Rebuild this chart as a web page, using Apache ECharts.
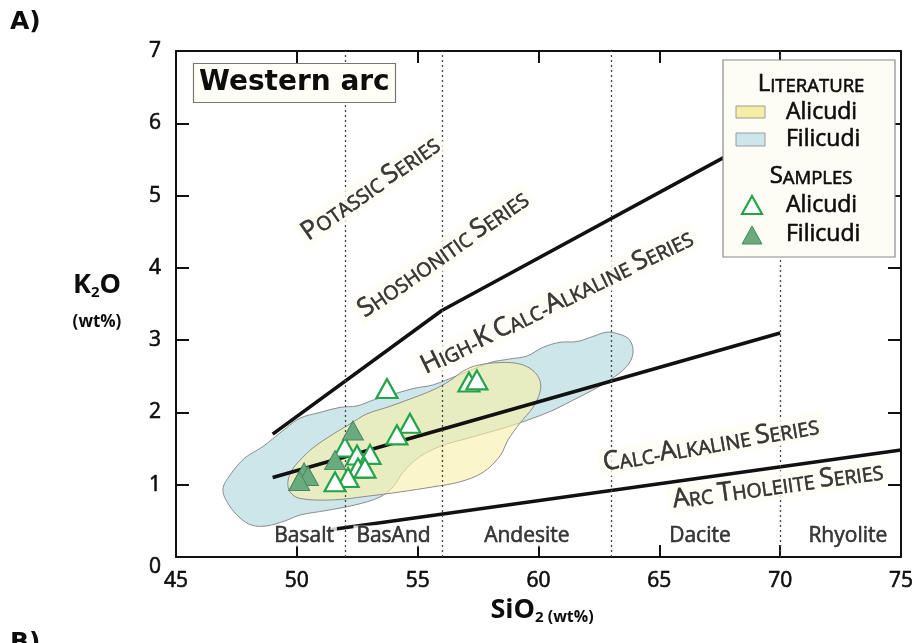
<!DOCTYPE html>
<html>
<head>
<meta charset="utf-8">
<script src="https://cdn.jsdelivr.net/npm/echarts@6/dist/echarts.min.js"></script>
<style>
  html, body { margin: 0; padding: 0; background: #fff; }
  #chart { width: 919px; height: 643px; }
</style>
</head>
<body>
<div id="chart"></div>
<script>
// ---- Axis ranges and ticks ----
const sio2Range = [45, 75];
const k2oRange = [0, 7];

// ---- Literature compositional fields, [SiO2, K2O] outline vertices ----
const filicudiField = [
  [46.94, 0.93], [47.23, 1.13], [47.85, 1.37], [48.56, 1.52], [49.43, 1.75], [50.13, 1.92],
  [50.96, 2.00], [51.79, 2.07], [52.49, 2.09], [53.15, 2.17], [53.98, 2.25], [54.81, 2.33],
  [55.63, 2.38], [56.34, 2.47], [57.16, 2.58], [57.99, 2.69], [58.82, 2.74], [59.52, 2.78],
  [60.18, 2.90], [60.89, 2.97], [61.59, 2.98], [62.25, 3.05], [62.83, 3.11], [63.37, 3.08],
  [63.78, 3.00], [63.91, 2.82], [63.66, 2.64], [62.96, 2.45], [62.25, 2.31], [61.43, 2.17],
  [60.60, 2.03], [59.77, 1.92], [58.82, 1.81], [57.99, 1.73], [57.04, 1.64], [55.92, 1.53],
  [55.01, 1.37], [54.39, 1.17], [53.98, 0.97], [53.44, 0.83], [52.41, 0.72], [51.16, 0.64],
  [50.13, 0.58], [49.51, 0.50], [48.76, 0.43], [48.14, 0.44], [47.65, 0.54], [47.19, 0.72]
];
const alicudiField = [
  [49.63, 1.04], [49.80, 1.20], [50.13, 1.34], [50.67, 1.51], [51.50, 1.70], [52.20, 1.84],
  [52.90, 1.98], [53.73, 2.07], [54.56, 2.17], [55.63, 2.31], [56.34, 2.44], [56.87, 2.57],
  [57.45, 2.65], [58.41, 2.69], [59.23, 2.67], [59.77, 2.58], [60.06, 2.44], [60.06, 2.28],
  [59.77, 2.07], [59.23, 1.85], [58.74, 1.62], [58.41, 1.40], [57.70, 1.17], [56.75, 1.04],
  [55.63, 0.97], [54.27, 0.90], [52.90, 0.84], [51.50, 0.79], [50.13, 0.81], [49.72, 0.90]
];

// ---- Analysed samples ----
const alicudiSiO2 = [53.73, 57.12, 57.45, 54.68, 54.14, 51.99, 52.49, 53.03, 52.53, 52.82, 52.12, 51.58];
const alicudiK2O  = [2.33, 2.42, 2.45, 1.85, 1.69, 1.52, 1.41, 1.42, 1.23, 1.23, 1.10, 1.04];
const filicudiSiO2 = [52.32, 51.58, 50.30, 50.46, 50.10];
const filicudiK2O  = [1.75, 1.34, 1.17, 1.12, 1.05];

// ---- Series boundaries (Peccerillo & Taylor type) ----
const shoshoniticBoundary = [[49, 1.70], [56, 3.41], [70, 5.95]];
const highKBoundary = [[49, 1.10], [70, 3.10]];
const tholeiiteBoundary = [[51.45, 0.38], [75, 1.48]];

// ---- Rock-type divisions and names ----
const rockDivisions = [52, 56, 63, 70];
const rockNames = ['Basalt', 'BasAnd', 'Andesite', 'Dacite', 'Rhyolite'];
const rockNameSiO2 = [50.30, 54.00, 59.52, 66.68, 72.80];
const rockNameK2O = 0.29;

// ---- Series names written along the diagram ----
const seriesNames = ['Potassic Series', 'Shoshonitic Series', 'High-K Calc-Alkaline Series',
                     'Calc-Alkaline Series', 'Arc Tholeiite Series'];
const seriesNameSiO2 = [53.05, 56.05, 60.76, 67.13, 69.90];
const seriesNameK2O = [5.10, 4.19, 3.53, 1.56, 0.99];
const seriesNameAngle = [35, 35, 26, 10, 8];

// Turn "Potassic Series" into rich text with large initials and small capitals.
function smallCaps(str, bigKey, smallKey) {
  let out = '';
  for (const ch of str) {
    if (ch === ' ') out += '{' + smallKey + '| }';
    else if (ch === ch.toUpperCase() && ch !== ch.toLowerCase()) out += '{' + bigKey + '|' + ch + '}';
    else out += '{' + smallKey + '|' + ch.toUpperCase() + '}';
  }
  return out;
}

const INK = '#0d0d0d';
const FONT = 'Open Sans';
// a hairline outline in the text colour gives the lettering a slightly heavier stroke
const HEAVY = { textBorderColor: INK, textBorderWidth: 0.6 };
const HEAVY_G = { stroke: INK, lineWidth: 0.6 };

function fieldSeries(name, pts, fill, z) {
  return {
    type: 'custom',
    name: name,
    z: z,
    silent: true,
    coordinateSystem: 'cartesian2d',
    data: [pts[0]],
    renderItem: function (params, api) {
      return {
        type: 'polygon',
        shape: { points: pts.map(p => api.coord(p)), smooth: 0.35 },
        style: { fill: fill, stroke: '#8c8c8c', lineWidth: 1 }
      };
    }
  };
}

function boundarySeries(pts) {
  return {
    type: 'line', z: 4, silent: true, symbol: 'none',
    data: pts,
    lineStyle: { color: '#111', width: 3.6 }
  };
}

const axisLineStyle = { color: '#111', width: 2 };
function xAxisDef(pos, labels) {
  return {
    type: 'value', position: pos, min: sio2Range[0], max: sio2Range[1], interval: 5,
    axisLine: { onZero: false, lineStyle: axisLineStyle },
    axisTick: { inside: true, length: 12, lineStyle: axisLineStyle },
    axisLabel: Object.assign({ show: labels, fontFamily: FONT, fontSize: 21, color: INK, margin: 14 }, HEAVY),
    splitLine: { show: false }
  };
}
function yAxisDef(pos, labels) {
  return {
    type: 'value', position: pos, min: k2oRange[0], max: k2oRange[1], interval: 1,
    axisLine: { onZero: false, lineStyle: axisLineStyle },
    axisTick: { inside: true, length: 13, lineStyle: axisLineStyle },
    axisLabel: Object.assign({
      show: labels, fontFamily: FONT, fontSize: 21, color: INK, margin: 15,
      formatter: v => (v === 0 ? '{z|0}' : String(v)),
      rich: { z: Object.assign({ fontFamily: FONT, fontSize: 21, color: INK, padding: [20, 0, 0, 0] }, HEAVY) }
    }, HEAVY),
    splitLine: { show: false }
  };
}

const capsRich = {
  c: Object.assign({ fontFamily: FONT, fontSize: 26, color: INK, verticalAlign: 'bottom' }, HEAVY),
  s: Object.assign({ fontFamily: FONT, fontSize: 19.5, color: INK, verticalAlign: 'bottom' }, HEAVY)
};
const headRich = {
  c: Object.assign({ fontFamily: FONT, fontSize: 24, fill: INK, verticalAlign: 'bottom' }, HEAVY_G),
  s: Object.assign({ fontFamily: FONT, fontSize: 18.5, fill: INK, verticalAlign: 'bottom' }, HEAVY_G)
};

function legendText(text, y) {
  return { type: 'text', z: 101, style: Object.assign({ text: text, x: 786, y: y, verticalAlign: 'middle', fontFamily: FONT, fontSize: 23, fill: INK }, HEAVY_G) };
}

const chart = echarts.init(document.getElementById('chart'), null, { renderer: 'canvas' });

chart.setOption({
  animation: false,
  backgroundColor: '#ffffff',
  title: {
    text: 'Western arc',
    left: 193, top: 63,
    padding: [4, 6, 4, 6],
    borderColor: '#777', borderWidth: 1.2,
    backgroundColor: '#fffef7',
    textStyle: { fontFamily: 'DejaVu Sans', fontWeight: 'bold', fontSize: 28, color: INK, lineHeight: 32 }
  },
  grid: { left: 176, right: 18, top: 51, bottom: 86, containLabel: false },
  xAxis: [xAxisDef('bottom', true), xAxisDef('top', false)],
  yAxis: [yAxisDef('left', true), yAxisDef('right', false)],
  series: [
    fieldSeries('Filicudi field', filicudiField, '#cde6e9', 1),
    fieldSeries('Alicudi field', alicudiField, 'rgba(248,241,168,0.62)', 1),
    {
      type: 'scatter', z: 2, silent: true, data: [],
      markLine: {
        silent: true, symbol: ['none', 'none'], label: { show: false },
        lineStyle: { type: [2, 3], color: '#444', width: 1.3 },
        data: rockDivisions.map(v => ({ xAxis: v }))
      }
    },
    boundarySeries(shoshoniticBoundary),
    boundarySeries(highKBoundary),
    boundarySeries(tholeiiteBoundary),
    {
      name: 'Alicudi', type: 'scatter', z: 6, symbol: 'triangle', symbolSize: [21, 19],
      itemStyle: { color: '#ffffff', borderColor: '#23a34a', borderWidth: 2.2, opacity: 1 },
      data: alicudiSiO2.map((x, i) => [x, alicudiK2O[i]])
    },
    {
      name: 'Filicudi', type: 'scatter', z: 6, symbol: 'triangle', symbolSize: [21, 19],
      itemStyle: { color: '#6aab7e', borderColor: '#4a8560', borderWidth: 1, opacity: 1 },
      data: filicudiSiO2.map((x, i) => [x, filicudiK2O[i]])
    },
    {
      type: 'scatter', z: 8, silent: true, symbolSize: 1,
      itemStyle: { color: 'rgba(0,0,0,0)' },
      label: {
        show: true, position: 'inside', fontFamily: FONT, color: INK,
        backgroundColor: 'rgba(255,254,243,0.95)', padding: [1, 5],
        rich: capsRich
      },
      labelLayout: { hideOverlap: false },
      data: seriesNames.map((n, i) => ({
        value: [seriesNameSiO2[i], seriesNameK2O[i]],
        label: { rotate: seriesNameAngle[i], formatter: smallCaps(n, 'c', 's') }
      }))
    },
    {
      type: 'scatter', z: 8, silent: true, symbolSize: 1,
      itemStyle: { color: 'rgba(0,0,0,0)' },
      label: Object.assign({
        show: true, position: 'inside', fontFamily: FONT, fontSize: 21, color: INK,
        backgroundColor: '#ffffff', padding: [0, 3], formatter: p => p.name
      }, HEAVY),
      labelLayout: { hideOverlap: false },
      data: rockNames.map((n, i) => ({ name: n, value: [rockNameSiO2[i], rockNameK2O] }))
    }
  ],
  graphic: [
    { type: 'text', z: 100, style: { text: 'A)', x: 10, y: 10, fontFamily: 'DejaVu Sans', fontWeight: 'bold', fontSize: 25, fill: INK } },
    { type: 'text', z: 100, style: { text: 'B)', x: 10, y: 631, fontFamily: 'DejaVu Sans', fontWeight: 'bold', fontSize: 25, fill: INK } },
    {
      type: 'text', z: 100,
      style: {
        text: '{b|K}{s|2}{b|O}', x: 97, y: 285, align: 'center', verticalAlign: 'middle',
        rich: {
          b: { fontFamily: 'Open Sans', fontWeight: 'bold', fontSize: 27, lineHeight: 30, fill: INK },
          s: { fontFamily: 'Open Sans', fontWeight: 'bold', fontSize: 15, lineHeight: 8, verticalAlign: 'bottom', fill: INK }
        }
      }
    },
    { type: 'text', z: 100, style: { text: '(wt%)', x: 97, y: 322, align: 'center', verticalAlign: 'middle', fontFamily: 'Open Sans', fontWeight: 'bold', fontSize: 17, fill: INK } },
    {
      type: 'text', z: 100,
      style: {
        text: '{b|SiO}{s|2}{u| (wt%)}', x: 542, y: 610, align: 'center', verticalAlign: 'middle',
        rich: {
          b: { fontFamily: 'Open Sans', fontWeight: 'bold', fontSize: 27, lineHeight: 30, fill: INK },
          s: { fontFamily: 'Open Sans', fontWeight: 'bold', fontSize: 15, lineHeight: 8, verticalAlign: 'bottom', fill: INK },
          u: { fontFamily: 'Open Sans', fontWeight: 'bold', fontSize: 16, lineHeight: 26, verticalAlign: 'bottom', fill: INK }
        }
      }
    },
    {
      type: 'group', z: 100,
      children: [
        { type: 'rect', z: 100, shape: { x: 723, y: 60, width: 172, height: 197 }, style: { fill: '#fdfdf6', stroke: '#8a8a8a', lineWidth: 1.2 } },
        { type: 'text', z: 101, style: { text: smallCaps('Literature', 'c', 's'), x: 811, y: 84, align: 'center', verticalAlign: 'middle', rich: headRich } },
        { type: 'rect', z: 101, shape: { x: 736, y: 106, width: 29, height: 12 }, style: { fill: '#f6eea4', stroke: '#9a9a9a', lineWidth: 1 } },
        legendText('Alicudi', 112),
        { type: 'rect', z: 101, shape: { x: 736, y: 133, width: 29, height: 13 }, style: { fill: '#cde6e9', stroke: '#9a9a9a', lineWidth: 1 } },
        legendText('Filicudi', 139),
        { type: 'text', z: 101, style: { text: smallCaps('Samples', 'c', 's'), x: 811, y: 176, align: 'center', verticalAlign: 'middle', rich: headRich } },
        { type: 'polygon', z: 101, shape: { points: [[752, 196], [762, 214], [742, 214]] }, style: { fill: '#ffffff', stroke: '#23a34a', lineWidth: 2.2 } },
        legendText('Alicudi', 205),
        { type: 'polygon', z: 101, shape: { points: [[752, 226], [762, 244], [742, 244]] }, style: { fill: '#6aab7e', stroke: '#4a8560', lineWidth: 1 } },
        legendText('Filicudi', 234)
      ]
    }
  ]
});
</script>
</body>
</html>
